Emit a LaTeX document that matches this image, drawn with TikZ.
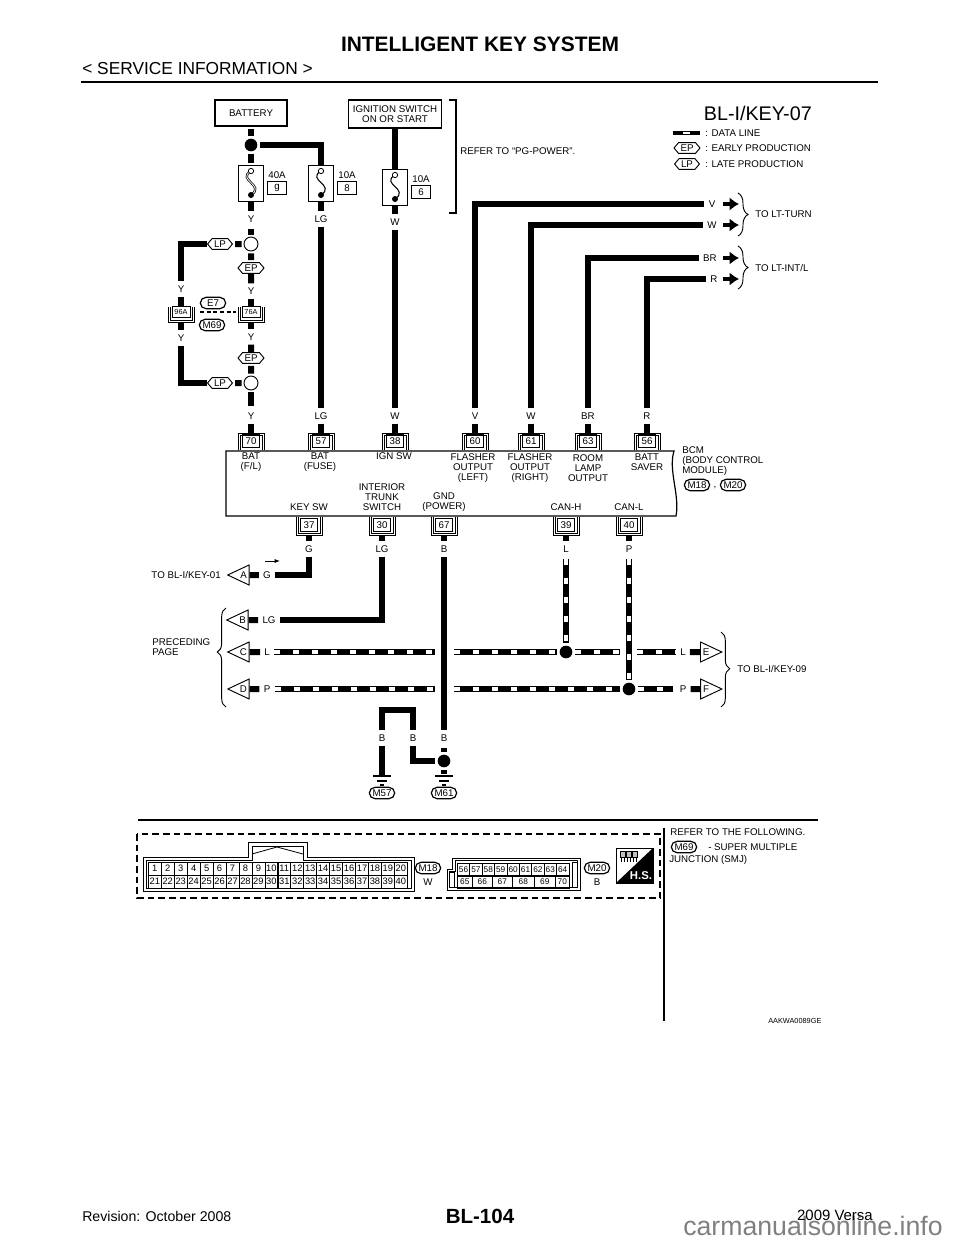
\documentclass[tikz,border=0pt]{standalone}
\usepackage{fontspec}
\setmainfont{Liberation Sans}
\usetikzlibrary{arrows.meta,shapes.geometric,shapes.misc,shapes.symbols,decorations.pathreplacing,positioning}

\begin{document}
\begin{tikzpicture}[x=0.75pt,y=-0.75pt,font=\fontsize{7.3}{7.5}\selectfont,
		   lbl/.style={inner sep=3pt,align=center},
		   txt/.style={inner sep=0pt,align=left,anchor=west},
		   wire/.style={line width=4.5pt},
		   tap/.style={shorten <=1.5pt,shorten >=1.5pt},
		   dataline/.style={line width=4.5pt,postaction={draw,white,line width=2.6pt,dash pattern=on 4.5pt off 9.75pt}},
		   thinbox/.style={draw,line width=0.9pt,fill=white,align=center,inner sep=0pt},
		   pinbox/.style={draw,line width=0.5pt,fill=white,minimum width=13pt,minimum height=9.5pt,inner sep=0pt},
		   hex/.style={draw,line width=0.7pt,fill=white,signal,signal to=east and west,signal pointer angle=100,inner sep=1.5pt},
		   pill/.style={draw,line width=0.9pt,rounded rectangle,fill=white,inner sep=0.5pt,minimum height=8.5pt,minimum width=20pt},
		   dot/.style={circle,fill=black,inner sep=0pt,minimum size=9.5pt},
		   ring/.style={circle,draw,line width=0.7pt,fill=white,inner sep=0pt,minimum size=10.5pt},
		   fusebox/.style={draw,line width=0.7pt,fill=white,minimum width=19pt,minimum height=27pt,inner sep=0pt},
		   fusetag/.style={draw,line width=0.5pt,minimum width=14pt,minimum height=9.5pt,inner sep=0pt},
		   tipbox/.style={draw,line width=0.7pt,fill=white,isosceles triangle,isosceles triangle apex angle=55,isosceles triangle stretches,minimum width=15pt,minimum height=16pt,inner sep=0pt},
		   fat/.style={line width=3.4pt,-{Latex[length=7pt,width=10pt]}},
		   brace/.style={line width=0.7pt,decorate},
		   cell/.style={draw,line width=0.5pt,inner sep=0pt,minimum height=9.4pt,font=\fontsize{7}{7}\selectfont}]
	\useasboundingbox (0,0) rectangle (960,1242);

	% page header and footer
	\node[inner sep=0pt] (title) at (480,44) {\fontsize{15.7}{16}\selectfont\bfseries INTELLIGENT KEY SYSTEM};
	\node[txt] (section) at (82,69) {\fontsize{13}{14}\selectfont < SERVICE INFORMATION >};
	\draw[line width=2.2pt] (81,82) -- (878,82);
	\node[inner sep=0pt] (pagenum) at (480,1216) {\fontsize{15.4}{16}\selectfont\bfseries BL-104};
	\node[txt] (rev) at (82,1216) {\fontsize{10.6}{11}\selectfont Revision: October 2008};
	\node[inner sep=0pt,anchor=east,text=black!50] (mark) at (943,1226) {\fontsize{20}{20}\selectfont carmanualsonline.info};
	\node[inner sep=0pt,anchor=east] (model) at (873,1215) {\fontsize{11.2}{12}\selectfont 2009 Versa};

	% legend
	\node[inner sep=0pt,anchor=east] (code) at (812,113) {\fontsize{14.8}{15}\selectfont BL-I/KEY-07};
	\coordinate (leg1) at (673,133); \coordinate (leg2) at (700,133);
	\draw[line width=3.5pt] (leg1) -- (leg2);
	\fill[white] (683,131.7) rectangle (690,134.3);
	\node[txt] (legdata) at (705,133) {: DATA LINE};
	\node[hex] (legep) at (687,148) {EP};
	\node[txt] (legept) at (705,148) {: EARLY PRODUCTION};
	\node[hex] (leglp) at (687,164) {LP};
	\node[txt] (leglpt) at (705,164) {: LATE PRODUCTION};

	% supply boxes
	\node[thinbox,minimum width=54pt,minimum height=19.5pt] (batt) at (251,113) {BATTERY};
	\node[thinbox,minimum width=70pt,minimum height=21pt] (ign) at (395,114) {IGNITION SWITCH\\ON OR START};
	\node[dot] (j1) at (251,145) {};
	\coordinate (j1r) at (260,145);
	\draw[line width=0.9pt] (449,100) -- (456,100) -- (456,213) -- (449,213);
	\node[txt] (pgref) at (460,151) {REFER TO “PG-POWER”.};

	% fuses
	\foreach \f/\fx/\fy/\amp/\tag/\sw in {1/251/183/40A/g/1.7pt,2/321/183/10A/8/0.8pt,3/395/187/10A/6/0.8pt} {
		\node[fusebox] (fuse\f) at (\fx,\fy) {};
		\node[inner sep=0pt] (amp\f) at (\fx+26,\fy-8) {\amp};
		\node[fusetag] (tag\f) at (\fx+26,\fy+5) {\tag};
		\draw[line width=\sw] (\fx,\fy-12) .. controls (\fx-15,\fy-3) and (\fx+15,\fy+2) .. (\fx,\fy+12);
		\ifnum\f=1\draw[white,line width=0.6pt] (\fx,\fy-12) .. controls (\fx-15,\fy-3) and (\fx+15,\fy+2) .. (\fx,\fy+12);\fi
		\node[circle,draw,fill=white,line width=0.6pt,inner sep=0pt,minimum size=4pt] (top\f) at (\fx,\fy-12) {};
		\node[circle,fill=black,inner sep=0pt,minimum size=4.5pt] (bot\f) at (\fx,\fy+12) {};
	}

	% labels on wires
	\foreach \n/\lx/\ly/\t in {y1/251/219/Y,lg1/321/219/LG,w1/395/222/W,y2/251/291/Y,yl/181/289/Y,y3/251/337/Y,yk/181/338/Y,
		y4/251/416/Y,lg2/321/416/LG,w2/395/416/W,v2/475/416/V,wr/531/416/W,br/588/416/BR,r2/647/416/R,
		g1/309/549/G,lg3/382/549/LG,b1/444/549/B,l1/566/549/L,p1/629/549/P,
		g2/267/575/G,lg4/269/620/LG,l2/267/652/L,p2/267/689/P,l3/683/652/L,p3/683/689/P,
		bx/382/738/B,by/413/738/B,bz/444/738/B,
		v1/712/204/V,w3/712/225/W,br1/710/258/BR,r1/714/279/R} {
		\node[lbl] (\n) at (\lx,\ly) {\t};
	}

	% hexagon marks and rings
	\node[ring] (r1t) at (251,244) {};
	\node[ring] (r2t) at (251,383) {};
	\node[hex] (ep1) at (251,268) {EP};
	\node[hex] (ep2) at (251,358) {EP};
	\node[hex] (lp1) at (220,244) {LP};
	\node[hex] (lp2) at (220,383) {LP};

	% inline connectors
	\foreach \c/\cx/\t in {a/251/76A,b/181/96A} {
		\node[draw,line width=0.5pt,minimum width=13.5pt,minimum height=8.5pt,inner sep=0pt] (con\c) at (\cx,312) {\fontsize{5.5}{6}\selectfont \t};
		\draw[line width=0.5pt] (\cx-13,307) -- (\cx-13,322) -- (\cx+13,322) -- (\cx+13,307);
		\draw[line width=0.5pt] (\cx-11,307) -- (\cx-11,320) -- (\cx+11,320) -- (\cx+11,307);
		\coordinate (low\c) at (\cx,322);
	}
	\node[pill] (e7) at (213,303) {E7};
	\node[pill] (m69) at (212,325) {M69};
	\coordinate (daisy1) at (200,312); \coordinate (daisy2) at (236,312);
	\draw[line width=0.8pt,dash pattern=on 3pt off 2pt] (daisy1) -- (daisy2);

	% BCM
	\path[draw,line width=0.9pt] (226,451) -- (674,451) .. controls (668,470) and (680,495) .. (676,516) -- (226,516) -- cycle;
	\foreach \pin/\px in {70/251,57/321,38/395,60/475,61/531,63/588,56/647} {
		\node[pinbox] (pin\pin) at (\px,441) {\pin};
		\draw[line width=0.5pt] (\px-13,450) -- (\px-13,433) -- (\px+13,433) -- (\px+13,450);
		\draw[line width=0.5pt] (\px-11,450) -- (\px-11,435) -- (\px+11,435) -- (\px+11,450);
	}
	\foreach \pin/\px in {37/309,30/382,67/444,39/566,40/629} {
		\node[pinbox] (pin\pin) at (\px,525) {\pin};
		\draw[line width=0.5pt] (\px-13,517) -- (\px-13,535) -- (\px+13,535) -- (\px+13,517);
		\draw[line width=0.5pt] (\px-11,517) -- (\px-11,533) -- (\px+11,533) -- (\px+11,517);
		\coordinate (out\pin) at (\px,535);
	}
	\node[inner sep=0pt,align=center] (t1) at (251,462) {BAT\\(F/L)};
	\foreach \n/\lx/\ly/\t in {t2/320/462/BAT\\(FUSE),t3/394/456/IGN SW,t4/473/468/FLASHER\\OUTPUT\\(LEFT),
		t5/530/468/FLASHER\\OUTPUT\\(RIGHT),t6/588/468/ROOM\\LAMP\\OUTPUT,t7/647/462/BATT\\SAVER,
		t8/309/507/KEY SW,t9/382/497/INTERIOR\\TRUNK\\SWITCH,t10/444/502/GND\\(POWER),t11/566/507/CAN-H,t12/629/507/CAN-L} {
		\node[inner sep=0pt,align=center] (\n) at (\lx,\ly) {\t};
	}
	\node[txt] (bcm) at (682,461) {BCM\\(BODY CONTROL\\MODULE)};
	\node[pill] (m18a) at (697,485) {M18};
	\node[inner sep=0pt] (comma) at (715,488) {,};
	\node[pill] (m20a) at (733,485) {M20};

	% tips
	\foreach \t/\tx/\ty/\s in {a/243.5/575/A,b/242.5/620/B,c/243.5/652/C,d/243.5/689/D} {
		\node[tipbox,shape border rotate=180] (tip\t) at (\tx,\ty) {\s};
	}
	\foreach \t/\ty/\s in {e/652/E,f/689/F} {
		\node[tipbox] (tip\t) at (706,\ty) {\s};
	}
	\node[inner sep=0pt,anchor=east] (tokey1) at (221,575) {TO BL-I/KEY-01};
	\coordinate (flow1) at (265,561); \coordinate (flow2) at (280,561);
	\draw[-{Latex[length=4pt,width=3pt]},line width=0.7pt] (flow1) -- (flow2);
	\draw[brace,decoration={brace,amplitude=6.5pt,aspect=0.555}] (226,707) -- (226,608);
	\node[txt] (prev) at (152,647) {PRECEDING\\PAGE};
	\draw[brace,decoration={brace,amplitude=6.5pt,aspect=0.49}] (721,632) -- (721,707);
	\node[txt] (tokey9) at (737,669) {TO BL-I/KEY-09};

	% wires of the power side
	\draw[wire,tap] (batt.south) -- (j1);
	\draw[wire,tap] (j1) -- (fuse1.north);
	\draw[wire] (j1r) -| (fuse2.north);
	\draw[wire] (ign.south) -- (fuse3.north);
	\draw[wire] (fuse1.south) -- (y1);
	\draw[wire,tap] (y1) -- (r1t);
	\draw[wire,tap] (r1t) -- (ep1);
	\draw[wire] (ep1) -- (y2);
	\draw[wire] (y2) -- (cona.north);
	\draw[wire] (lowa) -- (y3);
	\draw[wire] (y3) -- (ep2);
	\draw[wire,tap] (ep2) -- (r2t);
	\draw[wire,tap] (r2t) -- (y4);
	\draw[wire] (y4) -- (pin70.north);
	\draw[wire] (fuse2.south) -- (lg1);
	\draw[wire] (lg1) -- (lg2);
	\draw[wire] (lg2) -- (pin57.north);
	\draw[wire] (fuse3.south) -- (w1);
	\draw[wire] (w1) -- (w2);
	\draw[wire] (w2) -- (pin38.north);
	\draw[wire,tap] (r1t) -- (lp1);
	\draw[wire] (lp1) -| (yl);
	\draw[wire] (yl) -- (conb.north);
	\draw[wire] (lowb) -- (yk);
	\draw[wire] (yk) |- (lp2);
	\draw[wire,tap] (lp2) -- (r2t);

	% outputs to the lamps
	\draw[wire] (v2) |- (v1);
	\draw[wire] (wr) |- (w3);
	\draw[wire] (br) |- (br1);
	\draw[wire] (r2) |- (r1);
	\draw[wire] (v2) -- (pin60.north);
	\draw[wire] (wr) -- (pin61.north);
	\draw[wire] (br) -- (pin63.north);
	\draw[wire] (r2) -- (pin56.north);
	\foreach \n/\ay in {a/204,b/225,c/258,d/279} {
		\coordinate (fa\n) at (723,\ay); \coordinate (fb\n) at (739,\ay);
		\draw[fat] (fa\n) -- (fb\n);
	}
	\draw[brace,decoration={brace,amplitude=7.5pt}] (738,193) -- (738,236);
	\draw[brace,decoration={brace,amplitude=7.5pt}] (738,246) -- (738,289);
	\node[txt] (turn) at (755,214) {TO LT-TURN};
	\node[txt] (intl) at (755,268) {TO LT-INT/L};

	% lower wires
	\draw[wire] (out37) -- (g1);
	\draw[wire] (out30) -- (lg3);
	\draw[wire] (out67) -- (b1);
	\draw[wire] (out39) -- (l1);
	\draw[wire] (out40) -- (p1);
	\draw[wire] (g1) |- (g2);
	\draw[wire] (g2) -- (tipa.east);
	\draw[wire] (lg3) |- (lg4);
	\draw[wire] (lg4) -- (tipb.east);
	\draw[wire] (l2) -- (tipc.east);
	\draw[wire] (p2) -- (tipd.east);
	\draw[wire] (l3) -- (tipe.west);
	\draw[wire] (p3) -- (tipf.west);
	\node[dot] (j2) at (566,652) {};
	\node[dot] (j3) at (629,689) {};
	\node[dot] (j4) at (444,761) {};
	\coordinate (lgap1) at (435,652); \coordinate (lgap2) at (452,652);
	\coordinate (pgap1) at (435,689); \coordinate (pgap2) at (452,689);
	\coordinate (lgap3) at (622,652); \coordinate (lgap4) at (637,652);
	\draw[dataline] (l2) -- (lgap1);
	\draw[dataline,tap] (lgap2) -- (j2);
	\draw[dataline,tap] (j2) -- (lgap3);
	\draw[dataline] (lgap4) -- (l3);
	\draw[dataline] (p2) -- (pgap1);
	\draw[dataline,tap] (pgap2) -- (j3);
	\draw[dataline,tap] (j3) -- (p3);
	\draw[dataline,tap] (l1) -- (j2);
	\draw[dataline,tap] (p1) -- (j3);
	\draw[wire] (b1) -- (bz);
	\draw[wire,tap] (bz) -- (j4);
	\coordinate (hop1) at (382,710); \coordinate (hop2) at (413,710);
	\draw[wire] (bx) -- (hop1) -- (hop2) -- (by);
	\draw[wire,shorten >=2pt] (by) |- (j4);
	\coordinate (gnda) at (382,776); \coordinate (gndb) at (444,776);
	\draw[wire] (bx) -- (gnda);
	\draw[wire,tap] (j4) -- (gndb);
	\foreach \g in {382,444} {
		\draw[line width=0.8pt] (\g-9,776) -- (\g+9,776);
		\draw[line width=0.8pt] (\g-5,781) -- (\g+5,781);
		\draw[line width=0.8pt] (\g-2,785) -- (\g+2,785);
	}
	\node[pill] (m57) at (382,793) {M57};
	\node[pill] (m61) at (444,793) {M61};

	% connector views
	\draw[line width=1.1pt] (138,820) -- (818,820);
	\draw[line width=1.1pt] (664,828) -- (664,1021);
	\draw[line width=0.8pt,dash pattern=on 5pt off 3pt] (137,834) rectangle (660,898);

	\draw[line width=0.7pt] (143,857) -- (248,857) -- (248,842) -- (307,842) -- (307,857) -- (414,857) -- (414,891) -- (143,891) -- cycle;
	\draw[line width=0.7pt] (146,860) -- (252,860) -- (252,846) -- (303,846) -- (303,860) -- (411,860) -- (411,888) -- (146,888) -- cycle;
	\draw[line width=0.6pt] (252,854) -- (277,847) -- (303,854);
	\foreach \n [count=\i from 0] in {1,...,20} {
		\node[cell,minimum width=9.7pt,anchor=north west] (a\n) at (148+12.95*\i,862) {\n};
	}
	\foreach \n [count=\i from 0] in {21,...,40} {
		\node[cell,minimum width=9.7pt,anchor=north west] (a\n) at (148+12.95*\i,875) {\n};
	}
	\node[pill] (m18b) at (428,868) {M18};
	\node[inner sep=0pt] (wcol) at (428,882) {W};

	\draw[line width=0.7pt] (452,858) -- (580,858) -- (580,890) -- (447,890) -- (447,869) -- (452,869) -- cycle;
	\draw[line width=0.7pt] (455,860.5) -- (577.5,860.5) -- (577.5,887.5) -- (449.5,887.5) -- (449.5,871.5) -- (455,871.5) -- cycle;
	\foreach \n [count=\i from 0] in {56,...,64} {
		\node[cell,minimum width=9.3pt,anchor=north west] (b\n) at (457+12.4*\i,863) {\fontsize{6.2}{6.5}\selectfont\n};
	}
	\foreach \n/\bx/\bw in {65/457/11.25,66/472/15,67/492/15,68/512/16.5,69/534/15.75,70/555/10.5} {
		\node[cell,minimum width=\bw pt,anchor=north west] (b\n) at (\bx,875) {\fontsize{6.2}{6.5}\selectfont\n};
	}
	\node[draw,line width=0.5pt,minimum width=3.7pt,minimum height=18.5pt,inner sep=0pt] (bslot) at (574.5,875) {};
	\node[draw,line width=0.5pt,minimum width=4pt,minimum height=11pt,inner sep=0pt] (bnotch) at (452,880) {};
	\node[pill] (m20b) at (597,868) {M20};
	\node[inner sep=0pt] (bcol) at (597,882) {B};

	% service data icon
	\draw[line width=0.6pt] (616,848) rectangle (653,883);
	\fill (653,848) -- (653,883) -- (616,883) -- cycle;
	\node[inner sep=0pt,text=white] (hs) at (641,876) {\fontsize{8.5}{9}\selectfont\bfseries H.S.};
	\foreach \k in {620,626,632} {
		\draw[line width=0.4pt,fill=black!25] (\k,851) rectangle (\k+5,857);
		\draw[line width=0.4pt] (\k+1,857) -- (\k+1,862);
		\draw[line width=0.4pt] (\k+4,857) -- (\k+4,862);
	}

	% note
	\node[txt] (note1) at (670,832) {REFER TO THE FOLLOWING.};
	\node[pill] (m69b) at (684,847) {M69};
	\node[txt] (note2) at (708,847) {- SUPER MULTIPLE};
	\node[txt] (note3) at (669,860) {JUNCTION (SMJ)};
	\node[inner sep=0pt,anchor=west] (fig) at (768,1021) {\fontsize{5.5}{6}\selectfont AAKWA0089GE};
\end{tikzpicture}
\end{document}
